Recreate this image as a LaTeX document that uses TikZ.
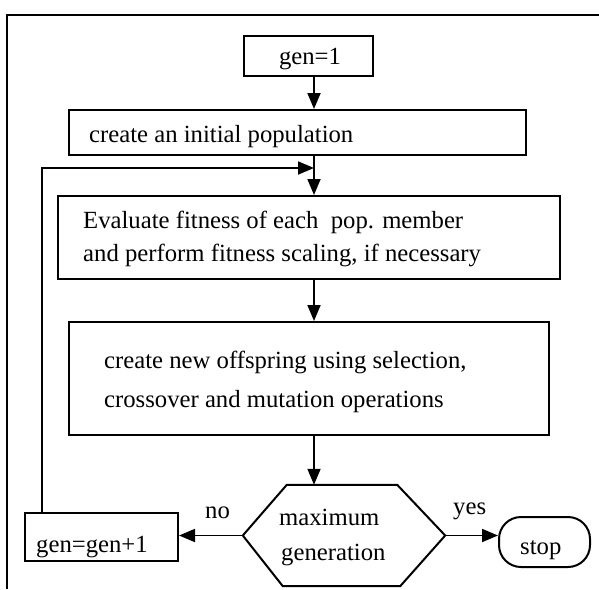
\documentclass[tikz,border=0pt]{standalone}
\usepackage{fontspec}
\setmainfont{Liberation Serif}
\usetikzlibrary{arrows.meta}
\begin{document}
\begin{tikzpicture}[x=1pt,y=-1pt,
  box/.style={draw,line width=2pt,inner sep=0pt,rectangle},
  txt/.style={inner sep=0pt,anchor=base west,font=\fontsize{24.7}{30}\selectfont},
  link/.style={line width=1.8pt,-{Triangle[length=16pt,width=13pt]}}]
\useasboundingbox (0,0) rectangle (599,589);
% frame
\draw[line width=2pt] (7,589) -- (7,15) -- (599,15);
\coordinate (spine) at (314,0);
\coordinate (loopc) at (42,168);
% boxes
\node[box,minimum width=129pt,minimum height=40pt] (gen1) at (308.5,56) {};
\node[box,minimum width=457pt,minimum height=45pt] (create) at (297.5,132.5) {};
\node[box,minimum width=502pt,minimum height=83pt] (eval) at (309,237.5) {};
\node[box,minimum width=480pt,minimum height=113pt] (off) at (309,378.5) {};
\node[inner sep=0pt,minimum width=202pt,minimum height=101pt] (hex) at (344,535.5) {};
\draw[line width=2pt] (hex.west) -- ([xshift=44pt]hex.north west) -- ([xshift=-48pt]hex.north east) -- (hex.east) -- ([xshift=-45pt]hex.south east) -- ([xshift=40pt]hex.south west) -- cycle;
\node[box,minimum width=153pt,minimum height=48pt] (genp) at (101.5,537) {};
\node[box,rounded corners=22pt,minimum width=91pt,minimum height=50pt] (stop) at (544.5,542) {};
% texts
\node[txt,anchor=base] (t0) at (310,64) {gen=1};
\node[txt] (t1) at (89,142) {create an initial population};
\node[txt] (t2) at (83,228) {Evaluate fitness of each~ pop. member};
\node[txt] (t3) at (83,261) {and perform fitness scaling, if necessary};
\node[txt] (t4) at (104,368) {create new offspring using selection,};
\node[txt] (t5) at (104,407) {crossover and mutation operations};
\node[txt] (t6) at (279,525) {maximum};
\node[txt] (t7) at (281,560) {generation};
\node[txt] (t8) at (36,552) {gen=gen+1};
\node[txt] (t9) at (520,554) {stop};
\node[txt] (t10) at (205,518) {no};
\node[txt] (t11) at (453,514) {yes};
% connectors
\draw[link] (gen1.south -| spine) -- (create.north -| spine);
\draw[link] (create.south -| spine) -- (eval.north -| spine);
\draw[link] (eval.south -| spine) -- (off.north -| spine);
\draw[link] (off.south -| spine) -- (hex.north -| spine);
\draw[link] (hex.west) -- (hex.west -| genp.east);
\draw[link] (hex.east) -- (hex.east -| stop.west);
\draw[link] (loopc |- genp.north) -- (loopc) -- (loopc -| spine);
\end{tikzpicture}
\end{document}
